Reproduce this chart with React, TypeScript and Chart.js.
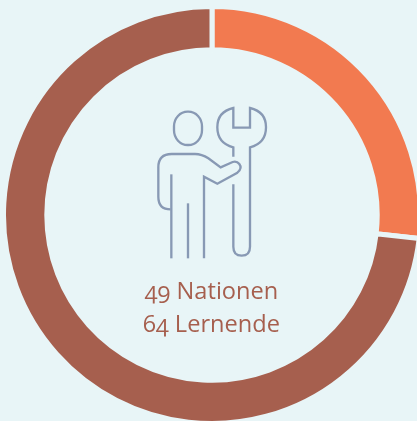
import React, { useEffect, useRef } from "react";
import { Chart, registerables } from "chart.js";

Chart.register(...registerables);

const categories = ["Orange", "Braun"];
const values = [26.8, 73.2];
const colors = ["#f27a50", "#a65f4e"];
const background = "#e8f5f7";
const captionLines = ["49 Nationen", "64 Lernende"];

export default function App() {
  const ref = useRef<HTMLCanvasElement | null>(null);
  useEffect(() => {
    document.body.style.margin = "0";
    document.body.style.background = background;
    const chart = new Chart(ref.current!, {
      type: "doughnut",
      data: {
        labels: categories,
        datasets: [
          {
            data: values,
            backgroundColor: colors,
            borderColor: background,
            borderWidth: 5,
            radius: 208.5,
            cutout: 166,
          } as any,
        ],
      },
      options: {
        responsive: false,
        animation: false,
        plugins: { legend: { display: false }, tooltip: { enabled: false } },
      },
    });
    return () => chart.destroy();
  }, []);
  return (
    <div style={{ position: "relative", width: 417, height: 421, overflow: "hidden", background }}>
      <canvas ref={ref} width={424} height={430} style={{ position: "absolute", left: 0, top: 0 }} />
      <svg
        viewBox="0 0 480 540"
        width={160}
        height={180}
        style={{ position: "absolute", left: 130, top: 90 }}
        fill="none"
        stroke="#8899b4"
        strokeWidth={7}
      >
        <rect x={132} y={65} width={84} height={100} rx={41} ry={44} />
        <path d="M124 505V253" />
        <path d="M174 505V340" />
        <path d="M222 505V260L262 281L322 248Q338 235 328 222Q320 212 308 216L272 232L235 205Q215 192 195 192H125Q85 192 85 232V320Q85 358 122 358" />
        <path d="M310 283V470Q310 497 335 497Q360 497 360 470V172Q408 160 408 112Q408 65 360 54V113H310V54Q262 65 262 112Q262 160 310 172V200" />
      </svg>
      <div
        style={{
          position: "absolute",
          left: 0,
          width: 423,
          top: 274,
          textAlign: "center",
          color: "#a65f4e",
          fontFamily: "'Open Sans', sans-serif",
          fontVariantNumeric: "oldstyle-nums",
          fontSize: 23.6,
          lineHeight: "33px",
          fontWeight: 400,
        }}
      >
        {captionLines.map((t) => (
          <div key={t}>{t}</div>
        ))}
      </div>
    </div>
  );
}
